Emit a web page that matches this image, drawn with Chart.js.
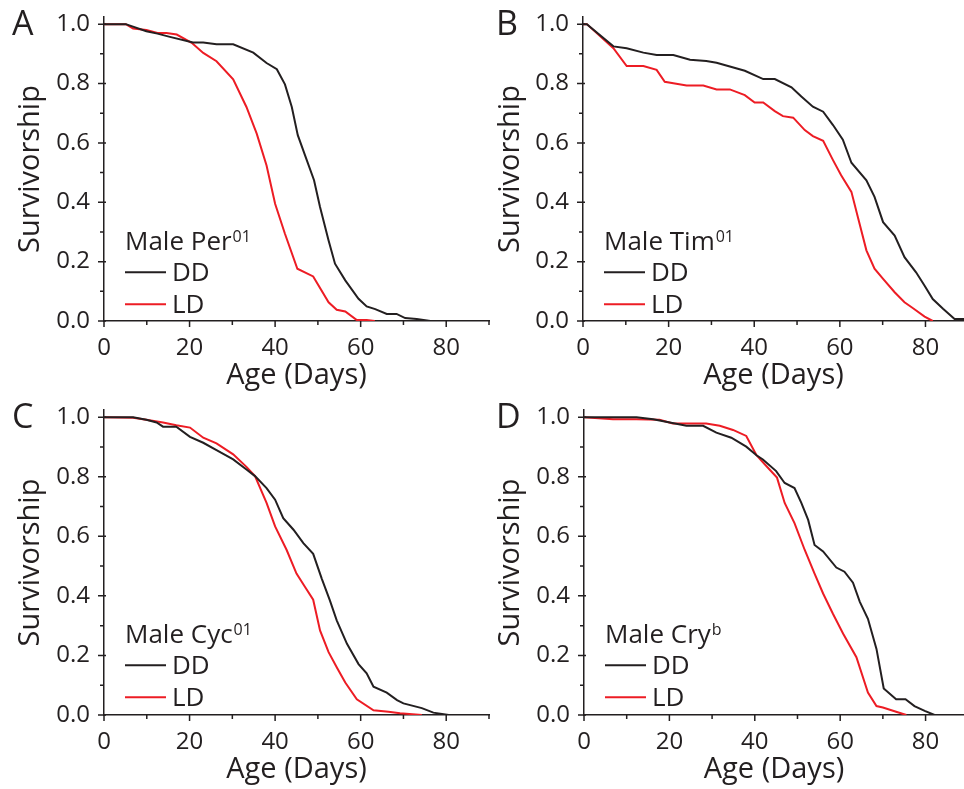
<!DOCTYPE html>
<html>
<head>
<meta charset="utf-8">
<script src="https://cdn.jsdelivr.net/npm/chart.js@4.4.1/dist/chart.umd.min.js"></script>
<style>
  html, body { margin: 0; padding: 0; background: #fff; }
  body { width: 964px; height: 789px; position: relative; overflow: hidden; }
  canvas { position: absolute; }
</style>
</head>
<body>
<canvas id="panelA" width="490" height="395" style="left:0;top:0"></canvas>
<canvas id="panelB" width="484" height="395" style="left:480px;top:0"></canvas>
<canvas id="panelC" width="490" height="396" style="left:0;top:393px"></canvas>
<canvas id="panelD" width="484" height="396" style="left:480px;top:393px"></canvas>
<script>
// survivorship curves (age in days, fraction alive)
const perDDAge  = [0, 5.1, 9.9, 12.5, 15.4, 20.8, 23.2, 26.3, 30.2, 34.9, 38.0, 40.4, 42.3, 43.9, 45.3, 47.0, 49.1, 50.5, 52.5, 54.0, 56.4, 59.5, 61.4, 63.4, 66.1, 68.4, 70.4, 73.1, 76.3];
const perDDSurv = [1.0, 1.0, 0.976, 0.968, 0.957, 0.938, 0.938, 0.932, 0.932, 0.904, 0.869, 0.848, 0.797, 0.721, 0.626, 0.558, 0.474, 0.384, 0.271, 0.193, 0.137, 0.075, 0.049, 0.04, 0.024, 0.024, 0.01, 0.007, 0.0];
const perLDAge  = [0, 5.1, 6.8, 9.9, 12.5, 14.6, 17.0, 20.5, 23.2, 26.3, 30.2, 33.3, 35.7, 38.0, 40.0, 42.3, 45.2, 48.9, 52.5, 54.4, 56.4, 59.1, 61.4, 63.3];
const perLDSurv = [1.0, 1.0, 0.985, 0.98, 0.97, 0.97, 0.965, 0.937, 0.903, 0.875, 0.814, 0.721, 0.631, 0.524, 0.395, 0.294, 0.176, 0.15, 0.063, 0.038, 0.032, 0.003, 0.003, 0.0];

const timDDAge  = [0, 0.9, 7.1, 10.2, 14.1, 17.2, 21.1, 25.0, 28.8, 31.2, 34.3, 37.8, 42.1, 44.8, 48.7, 51.0, 53.7, 56.1, 58.4, 60.7, 62.7, 66.2, 68.1, 70.1, 72.8, 75.1, 77.8, 79.8, 81.7, 84.1, 86.8, 89];
const timDDSurv = [1.0, 1.0, 0.925, 0.919, 0.904, 0.896, 0.896, 0.88, 0.876, 0.87, 0.857, 0.843, 0.815, 0.815, 0.787, 0.756, 0.722, 0.705, 0.66, 0.611, 0.533, 0.474, 0.418, 0.333, 0.288, 0.215, 0.164, 0.119, 0.074, 0.041, 0.007, 0.007];
const timLDAge  = [0, 0.9, 7.1, 10.2, 14.1, 17.2, 19.1, 21.1, 24.2, 28.1, 31.2, 34.3, 37.8, 40.1, 42.1, 44.8, 46.7, 49.1, 51.8, 53.7, 56.1, 58.4, 60.3, 62.7, 64.2, 66.2, 68.1, 70.1, 72.8, 75.1, 77.1, 79.8, 81.7];
const timLDSurv = [1.0, 1.0, 0.919, 0.859, 0.859, 0.846, 0.806, 0.801, 0.793, 0.793, 0.78, 0.78, 0.761, 0.736, 0.736, 0.707, 0.69, 0.685, 0.643, 0.623, 0.607, 0.542, 0.491, 0.435, 0.35, 0.238, 0.176, 0.142, 0.097, 0.063, 0.043, 0.015, 0.0];

const cycDDAge  = [0, 6.8, 9.9, 12.3, 13.8, 16.9, 20.1, 23.2, 26.3, 30.2, 33.3, 35.3, 38.0, 40.0, 41.9, 44.3, 46.6, 48.9, 50.9, 52.8, 54.4, 56.8, 59.5, 61.4, 63.0, 66.1, 68.5, 70.0, 74.3, 77.0, 80.6];
const cycDDSurv = [1.0, 1.0, 0.991, 0.982, 0.968, 0.968, 0.934, 0.914, 0.889, 0.858, 0.824, 0.802, 0.762, 0.723, 0.661, 0.622, 0.577, 0.541, 0.458, 0.385, 0.318, 0.239, 0.171, 0.14, 0.095, 0.075, 0.05, 0.039, 0.023, 0.008, 0.0];
const cycLDAge  = [0, 6.8, 9.9, 13.8, 16.9, 20.1, 23.2, 26.3, 30.2, 33.3, 35.3, 38.0, 40.0, 42.7, 45.0, 47.0, 48.9, 50.5, 52.5, 54.4, 56.4, 59.1, 63.0, 66.5, 69.2, 74.3];
const cycLDSurv = [1.0, 0.998, 0.991, 0.982, 0.973, 0.965, 0.931, 0.912, 0.875, 0.833, 0.802, 0.712, 0.633, 0.554, 0.475, 0.43, 0.387, 0.284, 0.211, 0.16, 0.109, 0.053, 0.016, 0.011, 0.006, 0.0];

const cryDDAge  = [0, 12.3, 16.2, 20.1, 24.0, 27.9, 31.0, 34.5, 38.0, 40.4, 41.9, 45.0, 47.0, 49.3, 50.9, 52.5, 54.0, 56.0, 59.1, 61.0, 63.0, 64.6, 66.5, 68.5, 70.2, 73.1, 75.3, 77.4, 79.8, 82.1];
const cryDDSurv = [1.0, 1.0, 0.993, 0.982, 0.971, 0.971, 0.948, 0.931, 0.901, 0.872, 0.858, 0.819, 0.779, 0.762, 0.712, 0.655, 0.571, 0.549, 0.495, 0.481, 0.444, 0.38, 0.323, 0.222, 0.089, 0.053, 0.053, 0.03, 0.014, 0.0];
const cryLDAge  = [0, 6.8, 12.3, 17.7, 20.8, 24.0, 28.6, 31.8, 34.9, 38.0, 40.4, 42.7, 45.2, 47.0, 49.3, 51.7, 54.0, 56.0, 58.3, 60.7, 63.8, 66.5, 68.5, 70.0, 73.1, 75.5];
const cryLDSurv = [1.0, 0.993, 0.993, 0.991, 0.979, 0.979, 0.979, 0.971, 0.957, 0.937, 0.872, 0.836, 0.797, 0.712, 0.644, 0.554, 0.475, 0.408, 0.34, 0.273, 0.194, 0.075, 0.03, 0.025, 0.011, 0.0];

const seriesNames = ["DD", "LD"];
const panelLetters = ["A", "B", "C", "D"];
const genotypes = ["Per", "Tim", "Cyc", "Cry"];
const alleles = ["01", "01", "01", "b"];

const xMajorTicks = [0, 20, 40, 60, 80];
const xMinorTicks = [10, 30, 50, 70, 90];
const yMajorTicks = [0, 0.2, 0.4, 0.6, 0.8, 1.0];
const yMinorTicks = [0.1, 0.3, 0.5, 0.7, 0.9];

const ink = "#231f20";
const red = "#ed1c24";
const font = '"Open Sans", "Noto Sans", sans-serif';

const zip = (xs, ys) => xs.map((x, i) => ({ x: x, y: ys[i] }));

// outward tick marks: long at labelled values, short in between
const axisTicks = {
  id: "axisTicks",
  afterDraw(chart) {
    const { ctx, scales } = chart;
    const x = scales.x, y = scales.y;
    ctx.save();
    ctx.strokeStyle = ink;
    ctx.lineWidth = 1.5;
    ctx.beginPath();
    xMajorTicks.forEach(v => {
      if (v > x.max) return;
      const px = x.getPixelForValue(v);
      ctx.moveTo(px, y.bottom);
      ctx.lineTo(px, y.bottom + 6);
    });
    xMinorTicks.forEach(v => {
      if (v > x.max) return;
      const px = x.getPixelForValue(v);
      ctx.moveTo(px, y.bottom);
      ctx.lineTo(px, y.bottom + 4);
    });
    yMajorTicks.forEach(v => {
      const py = y.getPixelForValue(v);
      ctx.moveTo(x.left - 6, py);
      ctx.lineTo(x.left + 2, py);
    });
    yMinorTicks.forEach(v => {
      const py = y.getPixelForValue(v);
      ctx.moveTo(x.left - 4, py);
      ctx.lineTo(x.left, py);
    });
    ctx.stroke();
    ctx.restore();
  }
};

const panelText = {
  id: "panelText",
  afterDraw(chart, args, opts) {
    const { ctx, chartArea } = chart;
    const top = chart.scales.y.getPixelForValue(1.0);
    const left = chartArea.left + 21;
    ctx.save();
    ctx.fillStyle = ink;
    ctx.textBaseline = "alphabetic";
    ctx.textAlign = "left";
    ctx.font = "34px " + font;
    ctx.fillText(opts.letter, opts.letterX, top + 11);

    const head = "Male " + opts.genotype;
    ctx.font = "26px " + font;
    ctx.fillText(head, left, top + 226);
    const w = ctx.measureText(head).width;
    ctx.font = "16px " + font;
    ctx.fillText(opts.allele, left + w + 1, top + 218);

    chart.data.datasets.forEach((ds, i) => {
      const yy = top + 248 + i * 32;
      ctx.strokeStyle = ds.borderColor;
      ctx.lineWidth = 2;
      ctx.beginPath();
      ctx.moveTo(left, yy);
      ctx.lineTo(left + 41, yy);
      ctx.stroke();
      ctx.font = "26px " + font;
      ctx.textBaseline = "middle";
      ctx.fillText(ds.label, left + 47, yy + 1);
    });
    ctx.restore();
  }
};

function makePanel(id, idx, dd, ld, xMax, yWidth, rightPad, letterX) {
  const ctx = document.getElementById(id);
  new Chart(ctx, {
    type: "line",
    data: {
      datasets: [
        { label: seriesNames[0], data: dd, borderColor: ink, borderWidth: 2 },
        { label: seriesNames[1], data: ld, borderColor: red, borderWidth: 2 }
      ]
    },
    options: {
      responsive: false,
      animation: false,
      devicePixelRatio: 1,
      parsing: false,
      elements: { point: { radius: 0 }, line: { tension: 0 } },
      layout: { padding: { top: 17, right: rightPad, left: 0, bottom: 0 } },
      plugins: {
        legend: { display: false },
        tooltip: { enabled: false },
        panelText: { letter: panelLetters[idx], genotype: genotypes[idx], allele: alleles[idx], letterX: letterX }
      },
      scales: {
        x: {
          type: "linear",
          min: 0,
          max: xMax,
          afterBuildTicks: s => { s.ticks = xMajorTicks.map(v => ({ value: v })); },
          afterFit: s => { s.height = 74; s.paddingLeft = 0; s.paddingRight = 0; },
          grid: { display: false, drawTicks: false },
          border: { display: true, color: ink, width: 1.5 },
          ticks: { color: ink, font: { family: font, size: 24 }, padding: 13, maxRotation: 0 },
          title: { display: true, text: "Age (Days)", color: ink, font: { family: font, size: 29 }, padding: { top: 0, bottom: 2 } }
        },
        y: {
          type: "linear",
          min: 0,
          max: 1.024,
          afterBuildTicks: s => { s.ticks = yMajorTicks.map(v => ({ value: v })); },
          afterFit: s => { s.width = yWidth; s.paddingTop = 0; s.paddingBottom = 0; },
          grid: { display: false, drawTicks: false },
          border: { display: true, color: ink, width: 1.5 },
          ticks: { color: ink, font: { family: font, size: 24 }, padding: 14, callback: v => v.toFixed(1) },
          title: { display: true, text: "Survivorship", color: ink, font: { family: font, size: 29 }, padding: { top: 13, bottom: 0 } }
        }
      }
    },
    plugins: [axisTicks, panelText]
  });
}

makePanel("panelA", 0, zip(perDDAge, perDDSurv), zip(perLDAge, perLDSurv), 90, 104, 1, 12);
makePanel("panelB", 1, zip(timDDAge, timDDSurv), zip(timLDAge, timLDSurv), 89, 103, 0, 16);
makePanel("panelC", 2, zip(cycDDAge, cycDDSurv), zip(cycLDAge, cycLDSurv), 90, 104, 1, 12);
makePanel("panelD", 3, zip(cryDDAge, cryDDSurv), zip(cryLDAge, cryLDSurv), 89, 104, 0, 16);
</script>
</body>
</html>
